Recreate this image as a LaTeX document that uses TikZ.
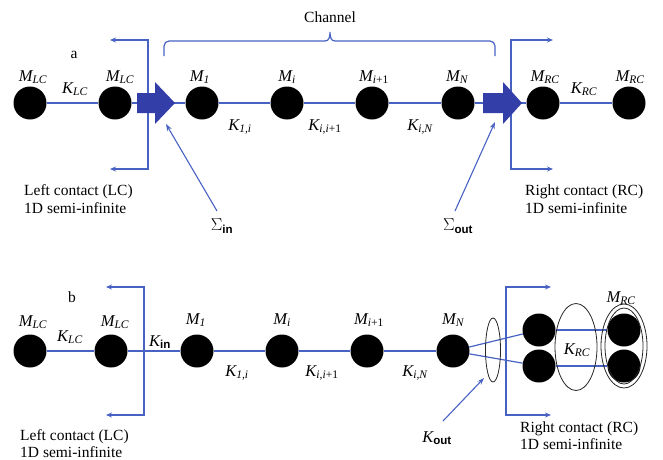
\documentclass[tikz,border=0pt]{standalone}
\usepackage{fontspec}
\usepackage{amsmath}
\setmainfont{Liberation Serif}
\setsansfont{Liberation Sans}
\usetikzlibrary{arrows.meta,shapes.geometric}
\definecolor{lineblue}{RGB}{72,98,196}
\definecolor{arrowblue}{RGB}{52,62,168}
\newcommand{\Mlab}[1]{$\textit{M}_{\textit{#1}}$}
\newcommand{\Klab}[1]{$\textit{K}_{#1}$}
\newcommand{\sfsub}[1]{\textsf{\bfseries #1}}
\begin{document}
\begin{tikzpicture}[x=1pt,y=-1pt,font=\fontsize{15.5}{18}\selectfont,
  ball/.style={circle,fill=black,minimum size=33pt,inner sep=0pt},
  lbl/.style={inner sep=0pt},
  mlbl/.style={inner sep=0pt,font=\fontsize{16.5}{18}\selectfont},
  txt/.style={inner sep=0pt,anchor=base west},
  link/.style={draw=lineblue,line width=1.2pt},
  brk/.style={draw=lineblue,line width=1.2pt,{Stealth[length=6pt,width=5pt]}-{Stealth[length=6pt,width=5pt]}},
  ptr/.style={draw=lineblue,line width=1.1pt,-{Stealth[length=7pt,width=5pt]}},
  ring/.style={draw=black!85,line width=0.8pt,ellipse,inner sep=0pt},
  bigarrow/.style={fill=arrowblue}]
\path[use as bounding box] (0,0) rectangle (663,459);

% ---------------- panel a ----------------
\node[lbl] (la) at (74,55) {a};
\node[lbl] (chan) at (330,17) {Channel};
\draw[link,rounded corners=5pt] (164,56) -- (164,41) -- (325,41);
\draw[link] (325,41) .. controls (329,41) and (330,37) .. (330,32) .. controls (330,37) and (331,41) .. (335,41);
\draw[link,rounded corners=5pt] (335,41) -- (495,41) -- (495,56);

\node[ball] (a1) at (30,103) {};
\node[ball] (a2) at (115,103) {};
\node[ball] (a3) at (202,103) {};
\node[ball] (a4) at (287,103) {};
\node[ball] (a5) at (372,103) {};
\node[ball] (a6) at (458,103) {};
\node[ball] (a7) at (543,103) {};
\node[ball] (a8) at (629,103) {};
\draw[link] (a1) -- (a2);
\draw[link] (a2) -- (a3);
\draw[link] (a3) -- (a4);
\draw[link] (a4) -- (a5);
\draw[link] (a5) -- (a6);
\draw[link] (a6) -- (a7);
\draw[link] (a7) -- (a8);

\coordinate (aLt) at (148,40);
\coordinate (aLb) at (148,169);
\coordinate (aLtE) at (110,40);
\coordinate (aLbE) at (110,169);
\draw[brk] (aLtE) -- (aLt) -- (aLb) -- (aLbE);
\coordinate (aRt) at (511,40);
\coordinate (aRb) at (511,169);
\coordinate (aRtE) at (553,40);
\coordinate (aRbE) at (553,169);
\draw[brk] (aRtE) -- (aRt) -- (aRb) -- (aRbE);

\fill[bigarrow] (137,93) -- (155,93) -- (155,82) -- (175,103) -- (155,124) -- (155,113) -- (137,113) -- cycle;
\fill[bigarrow] (483,93) -- (503,93) -- (503,82) -- (522,103) -- (503,124) -- (503,113) -- (483,113) -- cycle;

\node[mlbl] (ma1) at (33,77) {\Mlab{LC}};
\node[mlbl] (ma2) at (120,77) {\Mlab{LC}};
\node[mlbl] (ma3) at (200,77) {\Mlab{1}};
\node[mlbl] (ma4) at (287,77) {\Mlab{i}};
\node[mlbl] (ma5) at (374,77) {$\textit{M}_{\textit{i}\text{+1}}$};
\node[mlbl] (ma6) at (457,77) {\Mlab{N}};
\node[mlbl] (ma7) at (545,77) {\Mlab{RC}};
\node[mlbl] (ma8) at (630,77) {\Mlab{RC}};

\node[mlbl] (ka1) at (75,89) {\Klab{\textit{LC}}};
\node[mlbl] (ka2) at (240,127) {\Klab{\textit{1,i}}};
\node[mlbl] (ka3) at (325,127) {\Klab{\textit{i,i}\text{+1}}};
\node[mlbl] (ka4) at (420,127) {\Klab{\textit{i,N}}};
\node[mlbl] (ka5) at (584,89) {\Klab{\textit{RC}}};

\node[txt] (lca1) at (24,195) {Left contact (LC)};
\node[txt] (lca2) at (24,213) {1D semi-infinite};
\node[txt] (rca1) at (525,195) {Right contact (RC)};
\node[txt] (rca2) at (525,213) {1D semi-infinite};

\node[mlbl] (sin) at (222,226) {$\Sigma_{\sfsub{in}}$};
\node[mlbl] (sout) at (458,226) {$\Sigma_{\sfsub{out}}$};
\coordinate (sinS) at (217,211);
\coordinate (sinE) at (166,124);
\coordinate (soutS) at (455,211);
\coordinate (soutE) at (495,122);
\draw[ptr] (sinS) -- (sinE);
\draw[ptr] (soutS) -- (soutE);

% ---------------- panel b ----------------
\node[lbl] (lb) at (72,297) {b};
\node[ball] (b1) at (30,351) {};
\node[ball] (b2) at (111,351) {};
\node[ball] (b3) at (197,351) {};
\node[ball] (b4) at (282,351) {};
\node[ball] (b5) at (367,351) {};
\node[ball] (b6) at (453,351) {};
\node[ball] (c1) at (539,330) {};
\node[ball] (c2) at (539,366) {};
\node[ball] (d1) at (624,330) {};
\node[ball] (d2) at (624,366) {};
\draw[link] (b1) -- (b2);
\draw[link] (b2) -- (b3);
\draw[link] (b3) -- (b4);
\draw[link] (b4) -- (b5);
\draw[link] (b5) -- (b6);
\draw[link] (b6) -- (c1);
\draw[link] (b6) -- (c2);
\draw[link] (c1) -- (d1);
\draw[link] (c2) -- (d2);

\coordinate (bLt) at (144,287);
\coordinate (bLb) at (144,415);
\coordinate (bLtE) at (106,287);
\coordinate (bLbE) at (106,415);
\draw[brk] (bLtE) -- (bLt) -- (bLb) -- (bLbE);
\coordinate (bRt) at (506,287);
\coordinate (bRb) at (506,415);
\coordinate (bRtE) at (551,287);
\coordinate (bRbE) at (551,415);
\draw[brk] (bRtE) -- (bRt) -- (bRb) -- (bRbE);

\node[ring,minimum width=15pt,minimum height=64pt] (e1) at (493,350) {};
\node[ring,minimum width=42pt,minimum height=87pt] (e2) at (576,347) {};
\node[ring,minimum width=46pt,minimum height=84pt] (e3) at (624,346) {};
\node[ring,minimum width=38pt,minimum height=76pt] (e4) at (624,346) {};

\node[mlbl] (mb1) at (33,322) {\Mlab{LC}};
\node[mlbl] (mb2) at (115,322) {\Mlab{LC}};
\node[mlbl] (mb3) at (196,320) {\Mlab{1}};
\node[mlbl] (mb4) at (282,320) {\Mlab{i}};
\node[mlbl] (mb5) at (369,320) {$\textit{M}_{\textit{i}\text{+1}}$};
\node[mlbl] (mb6) at (453,320) {\Mlab{N}};
\node[mlbl] (mb7) at (621,298) {\Mlab{RC}};

\node[mlbl] (kb1) at (70,337) {\Klab{\textit{LC}}};
\node[mlbl] (kb2) at (160,342) {\Klab{\sfsub{in}}};
\node[mlbl] (kb3) at (237,373) {\Klab{\textit{1,i}}};
\node[mlbl] (kb4) at (322,373) {\Klab{\textit{i,i}\text{+1}}};
\node[mlbl] (kb5) at (415,373) {\Klab{\textit{i,N}}};
\node[mlbl] (kb6) at (577,350) {\Klab{\textit{RC}}};
\node[mlbl] (kout) at (437,438) {\Klab{\sfsub{out}}};
\coordinate (koutS) at (443,421);
\coordinate (koutE) at (484,378);
\draw[ptr] (koutS) -- (koutE);

\node[txt] (lcb1) at (20,440) {Left contact (LC)};
\node[txt] (lcb2) at (20,457) {1D semi-infinite};
\node[txt] (rcb1) at (520,432) {Right contact (RC)};
\node[txt] (rcb2) at (520,449) {1D semi-infinite};
\end{tikzpicture}
\end{document}
